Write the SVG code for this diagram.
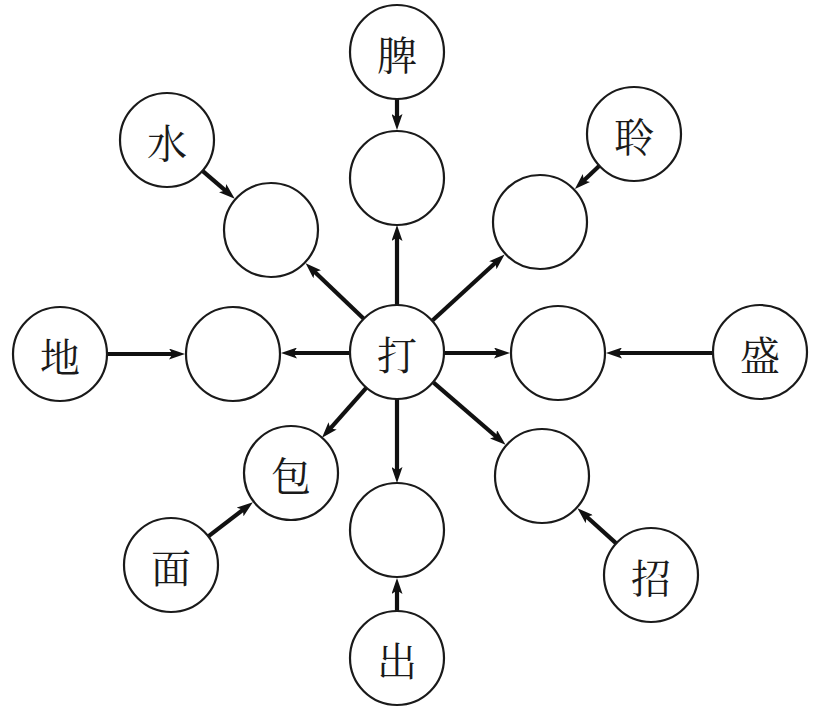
<svg xmlns="http://www.w3.org/2000/svg" width="825" height="715" viewBox="0 0 825 715">
<style>
.n{fill:#fff;stroke:#1a1a1a;stroke-width:2.2}
.t{font-family:"Noto Serif CJK SC","Noto Sans CJK SC",serif;font-size:40px;fill:#1a1a1a;text-anchor:middle;dominant-baseline:central}
.c{stroke:#111;stroke-width:4.2;fill:none;marker-end:url(#ah)}
</style>
<defs>
<marker id="ah" viewBox="0 0 16 11" refX="8" refY="5.5" markerWidth="16" markerHeight="11" markerUnits="userSpaceOnUse" orient="auto">
<path d="M0,0 L16,5.5 L0,11 L3.5,5.5 z" fill="#111"/>
</marker>
</defs>
<rect width="825" height="715" fill="#fff"/>
<g id="connectors">
<line class="c" x1="397" y1="305" x2="397" y2="233"/>
<line class="c" x1="364" y1="319" x2="311.4" y2="268.8"/>
<line class="c" x1="432.7" y1="320.3" x2="498.7" y2="259.8"/>
<line class="c" x1="350" y1="353" x2="289" y2="353"/>
<line class="c" x1="444" y1="353" x2="502" y2="353"/>
<line class="c" x1="366.9" y1="387.2" x2="327.3" y2="431.8"/>
<line class="c" x1="433.6" y1="382.7" x2="499.5" y2="439.5"/>
<line class="c" x1="397" y1="399" x2="397" y2="475"/>
<line class="c" x1="397" y1="99" x2="397" y2="122"/>
<line class="c" x1="202.5" y1="170.8" x2="228.7" y2="193.4"/>
<line class="c" x1="599.9" y1="165.3" x2="580.7" y2="183.5"/>
<line class="c" x1="107" y1="354" x2="177" y2="354"/>
<line class="c" x1="713" y1="353" x2="614" y2="353"/>
<line class="c" x1="208.3" y1="536.4" x2="246.5" y2="507.1"/>
<line class="c" x1="616.2" y1="543.4" x2="583.4" y2="513.7"/>
<line class="c" x1="397" y1="611" x2="397" y2="586"/>
</g>
<g id="center"><circle class="n" cx="397" cy="352" r="47"/><text class="t" x="397" y="352">打</text></g>
<g id="top-empty"><circle class="n" cx="397" cy="178" r="47"/></g>
<g id="ul-empty"><circle class="n" cx="271" cy="230" r="47"/></g>
<g id="ur-empty"><circle class="n" cx="540" cy="222" r="47"/></g>
<g id="left-empty"><circle class="n" cx="233" cy="354" r="47"/></g>
<g id="right-empty"><circle class="n" cx="558" cy="353" r="47"/></g>
<g id="bao"><circle class="n" cx="291" cy="473" r="47"/><text class="t" x="291" y="473">包</text></g>
<g id="lr-empty"><circle class="n" cx="542" cy="476" r="47"/></g>
<g id="bottom-empty"><circle class="n" cx="397" cy="530" r="47"/></g>
<g id="pi"><circle class="n" cx="397" cy="52" r="47"/><text class="t" x="397" y="52">脾</text></g>
<g id="shui"><circle class="n" cx="167" cy="140" r="47"/><text class="t" x="167" y="140">水</text></g>
<g id="ling"><circle class="n" cx="634" cy="134" r="47"/><text class="t" x="634" y="134">聆</text></g>
<g id="di"><circle class="n" cx="60" cy="354" r="47"/><text class="t" x="60" y="354">地</text></g>
<g id="sheng"><circle class="n" cx="760" cy="352" r="47"/><text class="t" x="760" y="352">盛</text></g>
<g id="mian"><circle class="n" cx="171" cy="565" r="47"/><text class="t" x="171" y="565">面</text></g>
<g id="zhao"><circle class="n" cx="651" cy="575" r="47"/><text class="t" x="651" y="575">招</text></g>
<g id="chu"><circle class="n" cx="397" cy="658" r="47"/><text class="t" x="397" y="658">出</text></g>
</svg>
